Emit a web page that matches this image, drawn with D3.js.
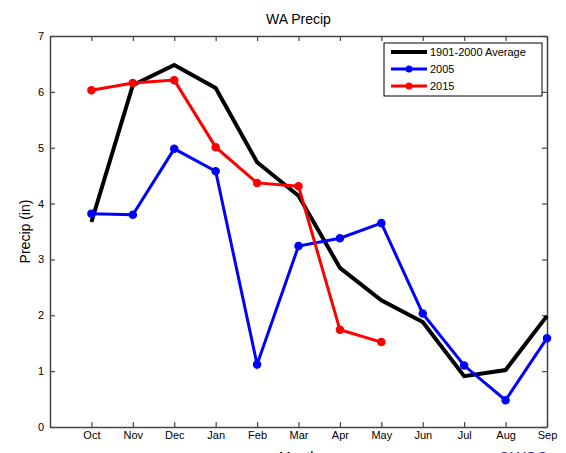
<!DOCTYPE html>
<html>
<head>
<meta charset="utf-8">
<script src="https://cdn.jsdelivr.net/npm/d3@7"></script>
<style>
  body { margin: 0; background: #fff; }
  svg { display: block; font-family: "Liberation Sans", Arial, sans-serif; }
</style>
</head>
<body>
<div id="chart"></div>
<script>
// months along the bottom
var months = ['Oct', 'Nov', 'Dec', 'Jan', 'Feb', 'Mar', 'Apr', 'May', 'Jun', 'Jul', 'Aug', 'Sep'];
var yTicks = [0, 1, 2, 3, 4, 5, 6, 7];

// precipitation (in)
var avg1901 = [3.67, 6.12, 6.48, 6.07, 4.74, 4.14, 2.85, 2.27, 1.88, 0.91, 1.02, 1.99];
var y2005 = [3.82, 3.80, 4.98, 4.58, 1.12, 3.24, 3.38, 3.65, 2.03, 1.10, 0.48, 1.59];
var y2015 = [6.03, 6.16, 6.21, 5.01, 4.37, 4.31, 1.74, 1.52];

var series = [
  { name: '1901-2000 Average', values: avg1901, color: '#000000', width: 4, marker: false },
  { name: '2005', values: y2005, color: '#0000ff', width: 3, marker: true },
  { name: '2015', values: y2015, color: '#ff0000', width: 3, marker: true }
];

var outerWidth = 566, outerHeight = 453;
var margin = { left: 50, top: 36, right: 19, bottom: 26 };
var innerWidth = outerWidth - margin.left - margin.right;
var innerHeight = outerHeight - margin.top - margin.bottom;

var x = d3.scaleLinear().domain([0, 12]).range([0, innerWidth]);
var y = d3.scaleLinear().domain([0, 7]).range([innerHeight, 0]);

var svg = d3.select('#chart').append('svg')
  .attr('width', outerWidth)
  .attr('height', outerHeight);

var g = svg.append('g')
  .attr('transform', 'translate(' + margin.left + ',' + margin.top + ')');

var axisColor = '#444';
var tickVals = d3.range(1, 13);

// bottom axis, ticks pointing in
var xAxis = g.append('g')
  .attr('transform', 'translate(0,' + innerHeight + ')')
  .call(d3.axisBottom(x).tickValues(tickVals).tickSizeInner(-5).tickSizeOuter(0)
    .tickPadding(4).tickFormat(function (d) { return months[d - 1]; }));
xAxis.selectAll('text').style('font-size', '11px').attr('fill', '#000');

// top axis, no labels
g.append('g')
  .call(d3.axisTop(x).tickValues(tickVals).tickSizeInner(-5).tickSizeOuter(0).tickFormat(''));

// left axis
var yAxis = g.append('g')
  .call(d3.axisLeft(y).tickValues(yTicks).tickSizeInner(-5).tickSizeOuter(0)
    .tickPadding(6).tickFormat(d3.format('d')));
yAxis.selectAll('text').style('font-size', '11px').attr('fill', '#000');

// right axis
g.append('g')
  .attr('transform', 'translate(' + innerWidth + ',0)')
  .call(d3.axisRight(y).tickValues(yTicks).tickSizeInner(-5).tickSizeOuter(0).tickFormat(''));

g.selectAll('.domain').attr('stroke', axisColor).attr('stroke-width', 1.5);
g.selectAll('.tick line').attr('stroke', axisColor).attr('stroke-width', 1.2);

// lines + markers
var line = d3.line()
  .x(function (d, i) { return x(i + 1); })
  .y(function (d) { return y(d); });

series.forEach(function (s) {
  g.append('path')
    .attr('d', line(s.values))
    .attr('fill', 'none')
    .attr('stroke', s.color)
    .attr('stroke-width', s.width)
    .attr('stroke-linejoin', 'miter');
  if (s.marker) {
    g.selectAll(null)
      .data(s.values)
      .enter()
      .append('circle')
      .attr('cx', function (d, i) { return x(i + 1); })
      .attr('cy', function (d) { return y(d); })
      .attr('r', 3.5)
      .attr('fill', s.color)
      .attr('stroke', s.color)
      .attr('stroke-width', 1.5);
  }
});

// legend
var lg = svg.append('g').attr('transform', 'translate(384,43)');
lg.append('rect')
  .attr('width', 158).attr('height', 53)
  .attr('fill', '#fff').attr('stroke', '#000').attr('stroke-width', 1);
series.forEach(function (s, i) {
  var ly = 9 + i * 17;
  lg.append('line')
    .attr('x1', 7).attr('x2', 43).attr('y1', ly).attr('y2', ly)
    .attr('stroke', s.color).attr('stroke-width', s.width);
  if (s.marker) {
    lg.append('circle').attr('cx', 25).attr('cy', ly).attr('r', 3.5).attr('fill', s.color);
  }
  lg.append('text')
    .attr('x', 46).attr('y', ly).attr('dy', '0.35em')
    .style('font-size', '11px')
    .text(s.name);
});

// title and axis titles
svg.append('text')
  .attr('x', margin.left + innerWidth / 2).attr('y', 24)
  .attr('text-anchor', 'middle')
  .style('font-size', '14px')
  .text('WA Precip');

svg.append('text')
  .attr('transform', 'translate(30,' + (margin.top + innerHeight / 2) + ') rotate(-90)')
  .attr('text-anchor', 'middle')
  .style('font-size', '14px')
  .text('Precip (in)');

svg.append('text')
  .attr('x', margin.left + innerWidth / 2).attr('y', 462)
  .attr('text-anchor', 'middle')
  .style('font-size', '14px')
  .text('Month');

svg.append('text')
  .attr('x', 498).attr('y', 464)
  .style('font-size', '16px')
  .attr('fill', '#1a2fb0')
  .text('OWSC');
</script>
</body>
</html>
